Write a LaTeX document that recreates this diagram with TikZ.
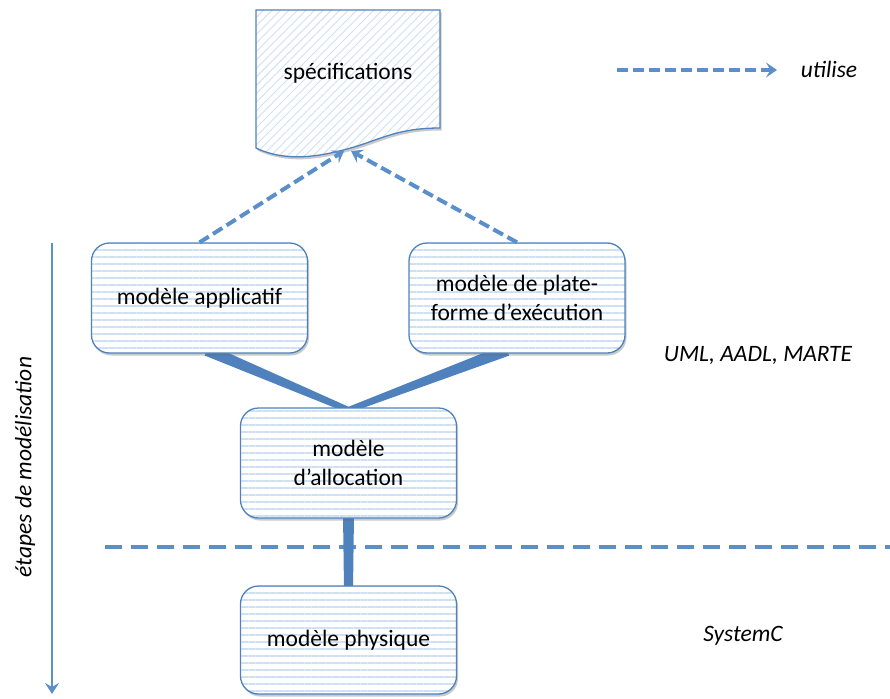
\documentclass[tikz,border=0pt]{standalone}
\usepackage{fontspec}
\setmainfont{Carlito}
\usetikzlibrary{arrows.meta,calc,patterns.meta,shadows}
\definecolor{cblue}{HTML}{4F81BD}
\definecolor{dblue}{HTML}{5A8FCA}
\definecolor{hatch}{HTML}{D0E0F3}
\begin{document}
\begin{tikzpicture}[x=1pt,y=-1pt,
  lbl/.style={font=\fontsize{23.5}{28.5}\selectfont, align=center, inner sep=0pt},
  ilbl/.style={font=\fontsize{23.5}{28.5}\selectfont\itshape, inner sep=0pt},
  shd/.style={drop shadow={shadow xshift=1.5pt, shadow yshift=-2.5pt, opacity=0.35, fill=black!60}},
  box/.style={shd, preaction={fill=white}, draw=cblue, line width=1.3pt, rounded corners=18pt,
    minimum width=216pt, minimum height=110pt, lbl,
    pattern={Lines[angle=0,distance=7pt,line width=1.1pt]}, pattern color=hatch},
  doc/.style={shd, preaction={fill=white}, draw=cblue, line width=1.3pt,
    pattern={Lines[angle=45,distance=6pt,line width=0.9pt]}, pattern color=hatch},
  dasharrow/.style={draw=dblue, line width=4pt, dash pattern=on 11pt off 5pt,
    -{Stealth[length=11pt,width=15pt,inset=4.5pt]}},
  conn/.style={fill=cblue}
]
\useasboundingbox (0,0) rectangle (890,698);

% specifications document
\path[doc] (256,10) -- (440,10) -- (440,128)
  .. controls (395,128) and (378,141) .. (347,149)
  .. controls (318,157) and (285,162) .. (256,148) -- cycle;
\node[lbl] (spec) at (348,73) {spécifications};
\coordinate (spectipL) at (344,151);
\coordinate (spectipR) at (351,151);

% connector end points
\coordinate (appS) at (207,350);
\coordinate (platS) at (507,350);
\coordinate (allocN) at (348.5,410);

% thick connectors (drawn before boxes)
\fill[conn] ($(appS)!6pt!90:(allocN)$) -- ($(allocN)!3pt!-90:(appS)$) -- ($(allocN)!3pt!90:(appS)$) -- ($(appS)!6pt!-90:(allocN)$) -- cycle;
\fill[conn] ($(platS)!6pt!90:(allocN)$) -- ($(allocN)!3pt!-90:(platS)$) -- ($(allocN)!3pt!90:(platS)$) -- ($(platS)!6pt!-90:(allocN)$) -- cycle;
\coordinate (allocS) at (348.5,514);
\coordinate (physN) at (348.5,590);

% dashed separator
\coordinate (h1) at (105,547);
\coordinate (h2) at (890,547);
\draw[dblue, line width=4.5pt, dash pattern=on 17pt off 9pt] (h1) -- (h2);
\fill[conn] ($(allocS)+(-5.5,0)$) -- ($(allocS)+(5.5,0)$) -- ($(physN)+(4.5,0)$) -- ($(physN)+(-4.5,0)$) -- cycle;

% boxes
\node[box] (app) at (199.5,298) {modèle applicatif};
\node[box] (plat) at (517,298) {modèle de plate-\\forme d’exécution};
\node[box] (alloc) at (348.5,463) {modèle\\d’allocation};
\node[box, minimum height=108pt] (phys) at (348.5,640) {modèle physique};

% uses arrows
\draw[dasharrow] (app.north) -- (spectipL);
\draw[dasharrow] (plat.north) -- (spectipR);

% legend
\coordinate (lg1) at (617,70);
\coordinate (lg2) at (777,70);
\draw[dasharrow] (lg1) -- (lg2);
\node[ilbl] (uses) at (829,69) {utilise};

% side labels
\node[ilbl] (uml) at (758,355) {UML, AADL, MARTE};
\node[ilbl] (sysc) at (743,636) {SystemC};

% modelling steps arrow
\coordinate (st1) at (52,243);
\coordinate (st2) at (52,694);
\draw[dblue, line width=2.8pt, -{Stealth[length=11pt,width=14pt,inset=4pt]}] (st1) -- (st2);
\node[ilbl, rotate=90] (steps) at (25,467) {étapes de modélisation};
\end{tikzpicture}
\end{document}
